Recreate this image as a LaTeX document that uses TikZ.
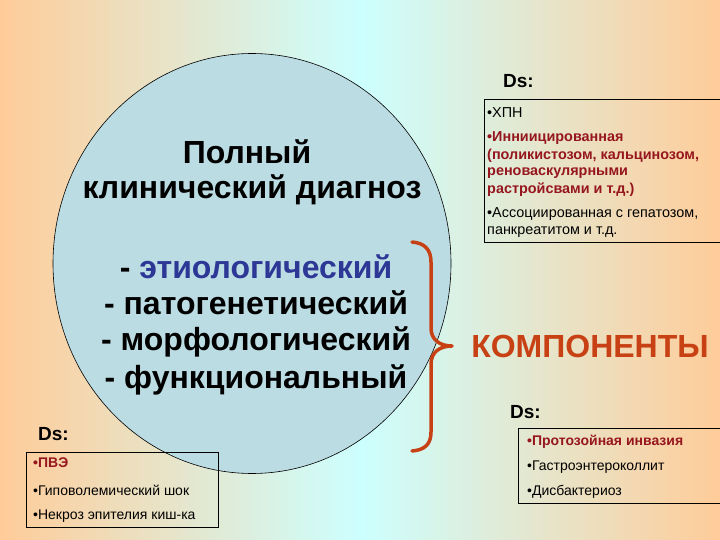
\documentclass[tikz,border=0pt]{standalone}
\usepackage{fontspec}
\setmainfont{Liberation Sans}
\definecolor{peach}{RGB}{255,204,153}
\definecolor{paleCyan}{RGB}{204,255,255}
\definecolor{discFill}{RGB}{187,220,226}
\definecolor{darkRed}{RGB}{150,22,30}
\definecolor{deepBlue}{RGB}{45,55,150}
\definecolor{braceRed}{RGB}{200,65,20}
\tikzset{
  bigtxt/.style={font=\fontsize{32}{38}\selectfont\bfseries, inner sep=0},
  dstxt/.style={font=\fontsize{19}{22}\selectfont\bfseries, anchor=west, inner sep=0},
  smalltxt/.style={font=\fontsize{14}{16}\selectfont, anchor=west, inner sep=0},
  smallred/.style={smalltxt, font=\fontsize{14}{16}\selectfont\bfseries, text=darkRed},
  tinytxt/.style={font=\fontsize{14.4}{16}\selectfont, anchor=west, inner sep=0},
  tinyred/.style={tinytxt, font=\fontsize{14.4}{16}\selectfont\bfseries, text=darkRed},
  dsline/.style={draw=black, line width=0.8pt},
  dsframe/.style={anchor=north west, inner sep=0},
}
\begin{document}
\begin{tikzpicture}[x=1pt,y=-1pt]
\useasboundingbox (0,0) rectangle (720,540);
% background gradient
\shade[left color=peach, right color=paleCyan] (0,0) rectangle (361,540);
\shade[left color=paleCyan, right color=peach] (360,0) rectangle (720,540);
% disc
\draw[fill=discFill, line width=0.6pt] (252,263.5) ellipse [x radius=199, y radius=210];
% title
\node[bigtxt] (t1) at (247,152) {Полный};
\node[bigtxt] (t2) at (252,190) {клинический диагноз};
% list
\node[bigtxt] (l1) at (256,267) {- \textcolor{deepBlue}{этиологический}};
\node[bigtxt] (l2) at (256,303) {- патогенетический};
\node[bigtxt] (l3) at (256,342) {- морфологический};
\node[bigtxt] (l4) at (256,380) {- функциональный};
% brace
\coordinate (btop) at (412,242);
\coordinate (btip) at (452,346);
\coordinate (bbot) at (412,451);
\draw[braceRed, line width=3.5pt, line cap=round, line join=round]
  (btop) .. controls (425,243) and (431,250) .. (431,262) -- (431,328)
  .. controls (431,340) and (440,346) .. (btip)
  .. controls (440,346) and (431,352) .. (431,364) -- (431,432)
  .. controls (431,444) and (425,450) .. (bbot);
\node[bigtxt, text=braceRed] (komp) at (590,346) {КОМПОНЕНТЫ};
% top-right Ds (box runs off the right edge)
\node[dstxt] (ds1) at (503,81) {Ds:};
\node[dsframe, minimum width=236pt, minimum height=143pt] (box1) at (484,99) {};
\draw[dsline] (box1.north east) -- (box1.north west) -- (box1.south west) -- (box1.south east);
\node[tinytxt] (a1) at (487,113) {•ХПН};
\node[tinyred] (a2) at (487,138) {•Инниицированная};
\node[tinyred] (a3) at (487,156) {(поликистозом, кальцинозом,};
\node[tinyred] (a4) at (487,173) {реноваскулярными};
\node[tinyred] (a5) at (487,190) {растройсвами и т.д.)};
\node[tinytxt] (a6) at (487,214) {•Ассоциированная с гепатозом,};
\node[tinytxt] (a7) at (487,232) {панкреатитом и т.д.};
% bottom-left Ds
\node[dstxt] (ds2) at (38,434) {Ds:};
\node[dsframe, dsline, minimum width=192pt, minimum height=75pt] (box2) at (26,452) {};
\node[smallred] (b1) at (33,463) {•ПВЭ};
\node[smalltxt] (b2) at (33,490) {•Гиповолемический шок};
\node[smalltxt] (b3) at (33,516) {•Некроз эпителия киш-ка};
% bottom-right Ds (box runs off the right edge)
\node[dstxt] (ds3) at (510,412) {Ds:};
\node[dsframe, minimum width=202pt, minimum height=75pt] (box3) at (518,428) {};
\draw[dsline] (box3.north east) -- (box3.north west) -- (box3.south west) -- (box3.south east);
\node[smallred] (c1) at (527,442) {•Протозойная инвазия};
\node[smalltxt] (c2) at (527,467) {•Гастроэнтероколлит};
\node[smalltxt] (c3) at (527,492) {•Дисбактериоз};
\end{tikzpicture}
\end{document}
